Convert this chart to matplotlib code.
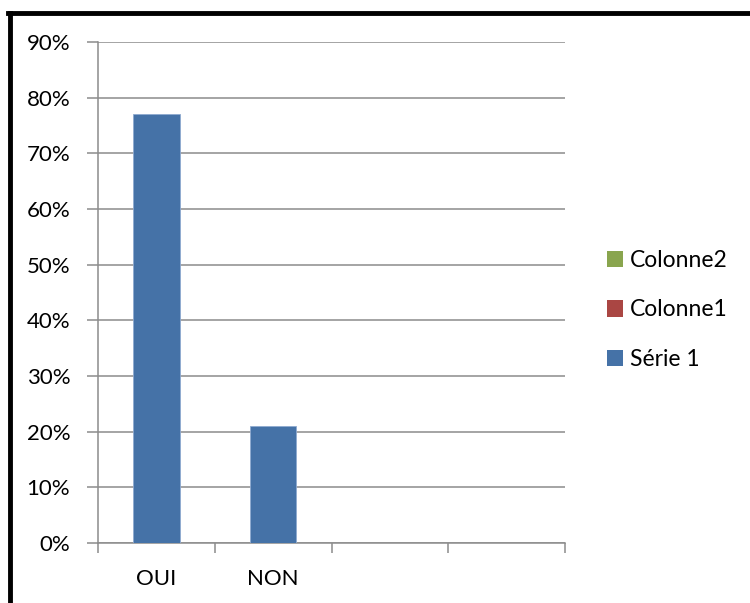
import matplotlib
matplotlib.use('Agg')
import matplotlib.pyplot as plt
from matplotlib.lines import Line2D
from matplotlib.patches import Patch
from matplotlib.ticker import MultipleLocator, FuncFormatter

categories = ['OUI', 'NON', '', '']
serie1 = [0.77, 0.21, None, None]
legend_labels = ['Colonne2', 'Colonne1', 'Série 1']
legend_colors = ['#89A54E', '#AA4643', '#4572A7']

plt.rcParams['font.family'] = ['Lato', 'DejaVu Sans']

fig = plt.figure(figsize=(7.5, 6.03), dpi=100)
ax = fig.add_axes([98/750, 1 - 543/603, (565 - 98)/750, (543 - 42)/603])

xs = [i for i, v in enumerate(serie1) if v is not None]
vals = [v for v in serie1 if v is not None]
ax.bar(xs, vals, width=0.4, color='#4572A7', edgecolor='#8FAAD0', linewidth=0.6, zorder=3)

ax.set_xlim(-0.5, len(categories) - 0.5)
ax.set_ylim(0, 0.9)
ax.yaxis.set_major_locator(MultipleLocator(0.1))
ax.yaxis.set_major_formatter(FuncFormatter(lambda v, p: f'{v*100:.0f}%'))
ax.grid(axis='y', color='#8C8C8C', linewidth=1.1, zorder=0)

ax.set_xticks(range(len(categories)))
ax.set_xticklabels(categories)
ax.set_xticks([i - 0.5 for i in range(len(categories) + 1)], minor=True)
ax.tick_params(axis='x', which='major', length=0, pad=19, labelsize=16)
ax.tick_params(axis='x', which='minor', length=7, color='#8C8C8C', width=1.1)
ax.tick_params(axis='y', length=8, color='#8C8C8C', width=1.1, labelsize=16, pad=12)

for s in ['top', 'right']:
    ax.spines[s].set_visible(False)
for s in ['left', 'bottom']:
    ax.spines[s].set_color('#8C8C8C')
    ax.spines[s].set_linewidth(1.1)

handles = [Patch(facecolor=c, edgecolor='none') for c in legend_colors]
fig.legend(handles, legend_labels, loc='center left', bbox_to_anchor=(589/750, 1 - 310/603),
           frameon=False, fontsize=16.5, handlelength=0.7, handleheight=0.7,
           handletextpad=0.3, labelspacing=1.25, borderpad=0.3)

# outer chart frame (left and top edges visible)
fig.add_artist(Line2D([10/750, 10/750], [0, 1 - 12.5/603], color='black', linewidth=3.5,
                      transform=fig.transFigure))
fig.add_artist(Line2D([8.3/750, 1], [1 - 12.5/603, 1 - 12.5/603], color='black', linewidth=3.5,
                      transform=fig.transFigure))

fig.savefig('out.png', dpi=100)
